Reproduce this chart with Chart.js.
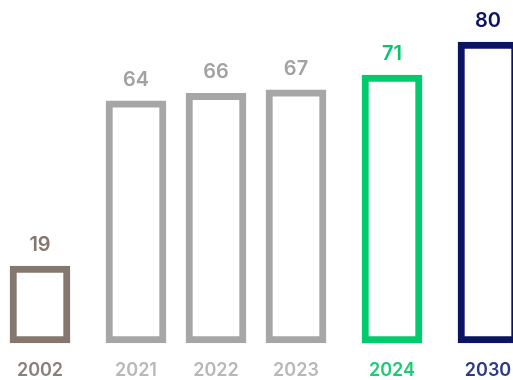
<!DOCTYPE html>
<html>
<head>
<meta charset="utf-8">
<script src="https://cdn.jsdelivr.net/npm/chart.js@4/dist/chart.umd.min.js"></script>
<style>
  html, body { margin: 0; padding: 0; background: #ffffff; }
  #wrap { position: relative; width: 513px; height: 380px; }
</style>
</head>
<body>
<div id="wrap"><canvas id="myChart" width="513" height="380"></canvas></div>
<script>
// years and values shown on the bars
var years = ['2002', '2021', '2022', '2023', '2024', '2030'];
var values = [19, 64, 66, 67, 71, 80];

// where each bar sits along the x axis (wider gaps around the outer years)
var slots = [0, 1.2, 2.2, 3.2, 4.4, 5.6];

var barColors = ['#85776e', '#a5a6a5', '#a5a6a5', '#a5a6a5', '#00cc6e', '#0b1462'];
var valueColors = ['#85776e', '#a2a2a2', '#a2a2a2', '#a2a2a2', '#00c96b', '#0b1462'];
var yearColors = ['#8c7f77', '#b8b8b8', '#b8b8b8', '#b8b8b8', '#1ccb74', '#2b3a83'];

var yMin = -1.96;
var yMax = 91.45;

// writes the value above each bar
var valueLabels = {
  id: 'valueLabels',
  afterDatasetsDraw: function(chart) {
    var ctx = chart.ctx;
    var meta = chart.getDatasetMeta(0);
    ctx.save();
    ctx.font = '600 20px Inter';
    ctx.textAlign = 'center';
    ctx.textBaseline = 'alphabetic';
    meta.data.forEach(function(bar, i) {
      ctx.fillStyle = valueColors[i];
      ctx.fillText(values[i], bar.x, bar.y - 15);
    });
    ctx.restore();
  }
};

function drawChart() {
  var ctx = document.getElementById('myChart').getContext('2d');
  var points = values.map(function(v, i) { return { x: slots[i], y: v }; });

  new Chart(ctx, {
    type: 'bar',
    data: {
      datasets: [{
        data: points,
        backgroundColor: '#ffffff',
        borderColor: barColors,
        borderWidth: 7,
        borderSkipped: false,
        barThickness: 60,
        base: yMin
      }]
    },
    options: {
      responsive: false,
      animation: false,
      layout: { padding: 0 },
      clip: false,
      plugins: {
        legend: { display: false },
        tooltip: { enabled: false }
      },
      scales: {
        x: {
          type: 'linear',
          min: -0.5,
          max: 5.9125,
          offset: false,
          grid: { display: false, drawTicks: false },
          border: { display: false },
          afterBuildTicks: function(scale) {
            scale.ticks = slots.map(function(s) { return { value: s }; });
          },
          afterFit: function(scale) {
            // the axis spans the full canvas width
            scale.height = 37;
            scale.paddingLeft = 0;
            scale.paddingRight = 0;
          },
          ticks: {
            padding: 17,
            autoSkip: false,
            maxRotation: 0,
            font: { family: 'Inter', size: 18, weight: '600' },
            color: function(c) { return yearColors[c.index]; },
            callback: function(value, index) { return years[index]; }
          }
        },
        y: {
          display: false,
          min: yMin,
          max: yMax
        }
      }
    },
    plugins: [valueLabels]
  });
}

drawChart();
</script>
</body>
</html>
